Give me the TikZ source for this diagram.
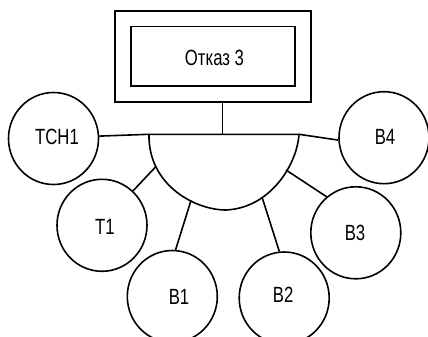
\documentclass[tikz,border=0pt]{standalone}
\usepackage{fontspec}
\setmainfont{Liberation Sans}[FakeStretch=0.76]
\usetikzlibrary{shapes.geometric}
\begin{document}
\begin{tikzpicture}[x=1pt,y=-1pt,line width=1.6pt,
  font=\fontsize{22}{26}\selectfont,
  ev/.style={draw,ellipse,minimum width=90pt,minimum height=92pt,inner sep=0pt},
  lbl/.style={inner sep=0pt}]
\useasboundingbox (0,0) rectangle (428,337);
\node[draw,minimum width=196pt,minimum height=91.5pt,inner sep=0pt] (frame) at (213,56.5) {};
\node[draw,minimum width=164pt,minimum height=59.5pt,inner sep=0pt] (fail) at (213,56.4) {};
\node[lbl] (failtext) at (214.5,58) {Отказ 3};
% gate
\coordinate (gl) at (149,134.3);
\coordinate (gr) at (299,134.3);
\coordinate (gb) at (226,210);
\coordinate (gtop) at (222.3,134.3);
\draw[line join=round] (gl) -- (gr) .. controls (297,165) and (270,208) .. (gb)
  .. controls (195,210) and (148,185) .. (gl) -- cycle;
\draw (gtop |- frame.south) -- (gtop);
\coordinate (pT1) at (155.5,167);
\coordinate (pB1) at (191,200.5);
\coordinate (pB2) at (262,197);
\coordinate (pB3) at (286,170);
% circles
\node[ev,label={[lbl,shift={(3.5,-1.5)}]center:TCH1}] (TCH1) at (53.5,138.5) {};
\node[ev,label={[lbl,shift={(1,-0.7)}]center:B4}] (B4) at (384,137.7) {};
\node[ev,label={[lbl,shift={(3,1.7)}]center:T1}] (T1) at (102,225.3) {};
\node[ev,label={[lbl,shift={(6.7,0.3)}]center:B1}] (B1) at (172.3,296.5) {};
\node[ev,label={[lbl,shift={(-1,-3.5)}]center:B2}] (B2) at (284.2,298) {};
\node[ev,label={[lbl,shift={(-0.8,0.2)}]center:B3}] (B3) at (355.8,232.8) {};
% connectors
\draw (TCH1.3) -- (gl);
\draw (gr) -- (B4.183);
\draw (pT1) -- (T1.48);
\draw (pB1) -- (B1.86);
\draw (pB2) -- (B2.96);
\draw (pB3) -- (B3.129);
\end{tikzpicture}
\end{document}
